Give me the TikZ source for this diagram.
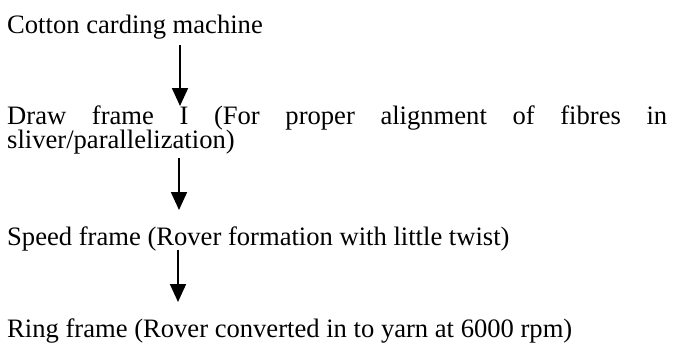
\documentclass[tikz,border=0pt]{standalone}
\usepackage{fontspec}
\setmainfont{Liberation Serif}
\usetikzlibrary{arrows.meta}
\begin{document}
\begin{tikzpicture}[x=1pt,y=-1pt,
  txt/.style={anchor=base west,inner sep=0pt,font=\fontsize{26.6}{24}\selectfont},
  flow/.style={line width=1.8pt,-{Triangle[width=16pt,length=18pt]}}]
\useasboundingbox (0,0) rectangle (677,343);
\node[txt] (card) at (7,33) {Cotton carding machine};
\node[txt] (draw) at (7,124) {\makebox[660pt][s]{Draw frame I (For proper alignment of fibres in}};
\node[txt] (draw2) at (7,148) {sliver/parallelization)};
\node[txt] (speed) at (7,245) {Speed frame (Rover formation with little twist)};
\node[txt] (ring) at (7,337) {Ring frame (Rover converted in to yarn at 6000 rpm)};
\coordinate (a1s) at (180,45);
\coordinate (a1e) at (180,106);
\coordinate (a2s) at (179,158);
\coordinate (a2e) at (179,210);
\coordinate (a3s) at (178,250);
\coordinate (a3e) at (178,302);
\draw[flow] (a1s) -- (a1e);
\draw[flow] (a2s) -- (a2e);
\draw[flow] (a3s) -- (a3e);
\end{tikzpicture}
\end{document}
